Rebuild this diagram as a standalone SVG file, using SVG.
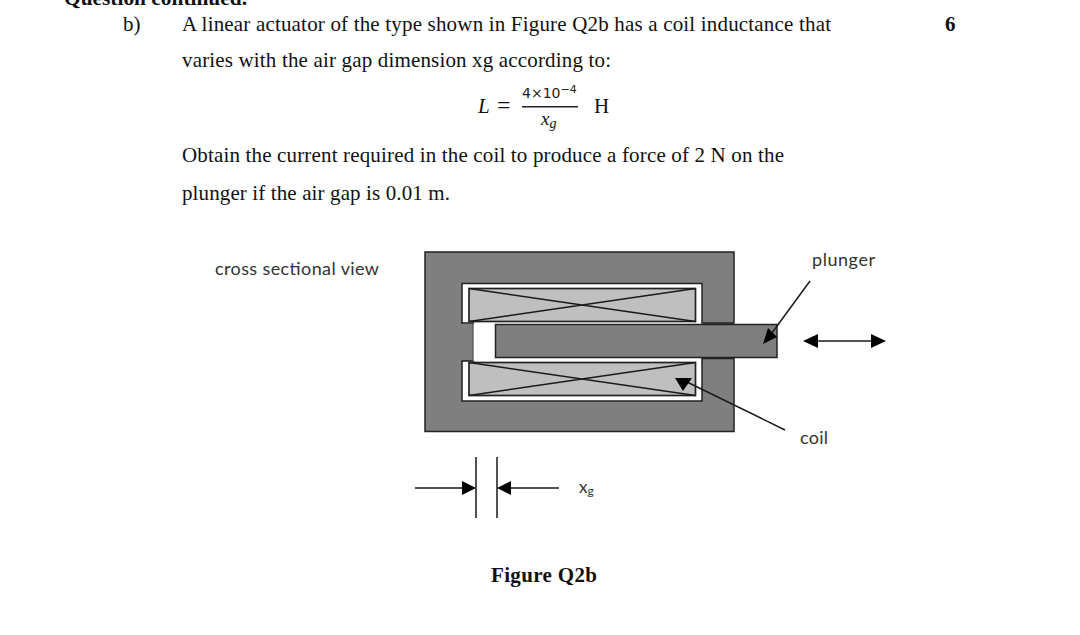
<svg xmlns="http://www.w3.org/2000/svg" width="1080" height="635" viewBox="0 0 1080 635">
<style>
.t{font-family:"Liberation Serif",serif;font-size:21px;fill:#111}
.b{font-weight:bold}
.s{font-family:"Lato","Open Sans",sans-serif;fill:#333}
.i{font-style:italic}
.l{stroke:#1a1a1a;stroke-width:1.500;fill:none}
.g{fill:#7f7f7f;stroke:#222;stroke-width:1.500}
.c{fill:#bfbfbf;stroke:#222;stroke-width:1.700}
.h{fill:#000;stroke:none}
</style>
<rect width="1080" height="635" fill="#fff"/>
<g id="text">
<text class="t b" x="64" y="5" textLength="183" lengthAdjust="spacingAndGlyphs">Question continued.</text>
<text class="t" x="123" y="31">b)</text>
<text class="t" x="182" y="31" textLength="649">A linear actuator of the type shown in Figure Q2b has a coil inductance that</text>
<text class="t b" x="945" y="31">6</text>
<text class="t" x="182" y="67" textLength="429">varies with the air gap dimension xg according to:</text>
<text class="t" x="182" y="162" textLength="602">Obtain the current required in the coil to produce a force of 2 N on the</text>
<text class="t" x="182" y="200" textLength="268">plunger if the air gap is 0.01 m.</text>
<text class="t b" x="491" y="582" textLength="106">Figure Q2b</text>
</g>
<g id="equation">
<text class="t i" x="478" y="113">L</text>
<text class="t" x="497" y="113" style="font-size:24px">=</text>
<text x="522" y="98" font-family="'DejaVu Sans',sans-serif" font-size="14" fill="#222">4×10<tspan font-size="11" dy="-5">−4</tspan></text>
<rect x="522" y="106" width="56" height="1.500" fill="#222"/>
<text class="t i" x="541" y="125" style="font-size:19px">x<tspan dy="3" style="font-size:14px">g</tspan></text>
<text class="t" x="594" y="113">H</text>
</g>
<g id="actuator">
<rect class="g" x="425" y="252" width="309" height="179.500"/>
<rect x="462" y="283.500" width="240" height="117.500" fill="#fff" stroke="#222" stroke-width="1.500"/>
<rect x="461" y="323.500" width="12.500" height="37.500" fill="#7f7f7f"/>
<path class="l" d="M461.500 323H473.500V361H461.500"/>
<rect x="473.500" y="323.500" width="22" height="37.500" fill="#fff"/>
<rect x="701" y="323" width="34" height="35" fill="#7f7f7f"/>
<path d="M702 323H734M702 358.500H734" stroke="#222" stroke-width="1.500"/>
<rect class="g" x="495.500" y="324.500" width="281.500" height="33"/>
</g>
<g id="coil-top">
<rect class="c" x="469" y="288.500" width="226.500" height="33"/>
<path class="l" d="M469 288.500L695.500 321.500M469 321.500L695.500 288.500"/>
</g>
<g id="coil-bottom">
<rect class="c" x="469" y="362.500" width="226.500" height="33"/>
<path class="l" d="M469 362.500L695.500 395.500M469 395.500L695.500 362.500"/>
</g>
<g id="connectors">
<path class="l" d="M810 281L769 337"/>
<polygon class="h" points="763,344 777,337 768,328"/>
<path class="l" d="M785 430L685 381"/>
<polygon class="h" points="675,378 692,378 683,391"/>
<path class="l" d="M815 341H873"/>
<polygon class="h" points="803,341 818,334 818,348"/>
<polygon class="h" points="886,341 871,334 871,348"/>
<path class="l" d="M476 457V518M497 457V518M415 488H464M559 488H509"/>
<polygon class="h" points="476,488 462,481 462,495"/>
<polygon class="h" points="497,488 511,481 511,495"/>
</g>
<g id="labels">
<text class="s" x="215" y="275" font-size="18" textLength="164">cross sectional view</text>
<text class="s" x="812" y="266" font-size="18" textLength="63">plunger</text>
<text class="s" x="800" y="444" font-size="18" textLength="28">coil</text>
<text class="s" x="579" y="493" font-size="17">x<tspan dy="2" font-size="12">g</tspan></text>
</g>
</svg>
